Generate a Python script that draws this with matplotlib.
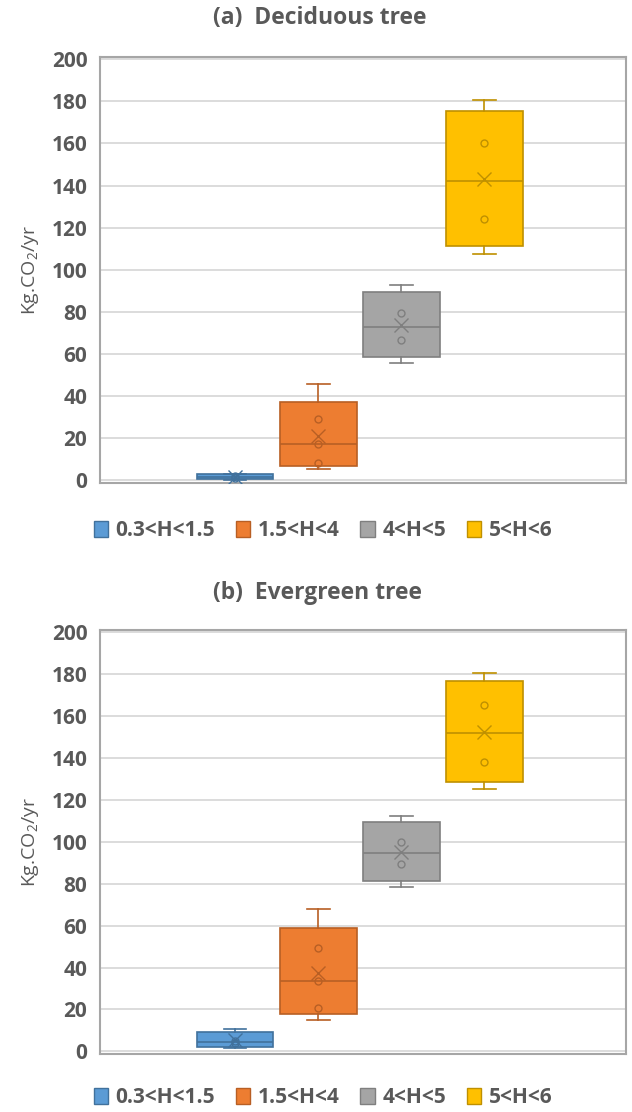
import numpy as np
import matplotlib.pyplot as plt
from matplotlib.patches import Patch

plt.rcParams['font.family'] = ['Open Sans', 'DejaVu Sans']

# carbon uptake samples per height class (kg CO2 / yr)
height_classes = ['0.3<H<1.5', '1.5<H<4', '4<H<5', '5<H<6']

deciduous = [
    [0.4, 1.2, 1.9, 3.2],
    [5.3, 8.5, 17.1, 29.3, 45.6],
    [55.7, 66.5, 79.5, 92.9],
    [107.3, 123.9, 160.0, 180.7],
]
evergreen = [
    [1.6, 4.0, 4.9, 10.5],
    [15.2, 20.6, 33.7, 49.3, 68.1],
    [78.4, 89.3, 100.0, 112.4],
    [125.2, 138.1, 165.4, 180.3],
]

fill_colors = ['#5B9BD5', '#ED7D31', '#A5A5A5', '#FFC000']
edge_colors = ['#41719C', '#B85F24', '#7F7F7F', '#BF9000']
text_color = '#595959'


def box_stats(values):
    v = np.sort(np.asarray(values, dtype=float))
    # exclusive quartiles, like QUARTILE.EXC
    q1, med, q3 = np.percentile(v, [25, 50, 75], method='weibull')
    return dict(med=med, q1=q1, q3=q3, whislo=v.min(), whishi=v.max(),
                mean=v.mean(), fliers=[])


def draw_panel(ax, groups):
    for i, vals in enumerate(groups):
        pos = i + 1
        st = box_stats(vals)
        ec = edge_colors[i]
        ax.bxp([st], positions=[pos], widths=0.92, capwidths=[0.27],
               showmeans=True, patch_artist=True,
               boxprops=dict(facecolor=fill_colors[i], edgecolor=ec, linewidth=1.2),
               medianprops=dict(color=ec, linewidth=1.2),
               whiskerprops=dict(color=ec, linewidth=1.2),
               capprops=dict(color=ec, linewidth=1.2),
               meanprops=dict(marker='x', markeredgecolor=ec, markersize=10,
                              markeredgewidth=1.0),
               zorder=3)
        inner = np.sort(vals)[1:-1]
        ax.plot(np.full(len(inner), pos), inner, 'o', mfc='none', mec=ec,
                ms=5, mew=1.0, zorder=4)

    ax.set_xlim(-0.63, 5.70)
    ax.set_ylim(-1.2, 201)
    ax.set_yticks(np.arange(0, 201, 20))
    ax.set_xticks([])
    ax.grid(axis='y', color='#D9D9D9', linewidth=1.3, zorder=0)
    ax.set_axisbelow(True)
    for sp in ax.spines.values():
        sp.set_color('#A6A6A6')
        sp.set_linewidth(1.5)
    ax.tick_params(axis='y', length=0, pad=9, labelsize=15, labelcolor=text_color)
    for lbl in ax.get_yticklabels():
        lbl.set_fontweight('bold')
    ax.set_ylabel('Kg.CO$_\\mathregular{2}$/yr', fontsize=14, color=text_color)
    ax.yaxis.set_label_coords(-0.112, 0.5)


fig = plt.figure(figsize=(6.32, 11.12), dpi=100)
ax_a = fig.add_axes([0.158, 0.5657, 0.832, 0.383])
ax_b = fig.add_axes([0.158, 0.0522, 0.832, 0.3813])

draw_panel(ax_a, deciduous)
draw_panel(ax_b, evergreen)

fig.text(0.506, 0.984, '(a)  Deciduous tree', ha='center', va='center',
         fontsize=16.5, fontweight='bold', color=text_color)
fig.text(0.503, 0.4667, '(b)  Evergreen tree', ha='center', va='center',
         fontsize=16.5, fontweight='bold', color=text_color)

handles = [Patch(facecolor=fc, edgecolor=ec, linewidth=1.0)
           for fc, ec in zip(fill_colors, edge_colors)]
for y in (0.523, 0.0126):
    leg = fig.legend(handles, height_classes, loc='center',
                     bbox_to_anchor=(0.511, y), ncol=4, frameon=False,
                     handlelength=0.7, handleheight=0.8, handletextpad=0.35,
                     columnspacing=1.0, prop=dict(size=15, weight='bold'))
    for t in leg.get_texts():
        t.set_color(text_color)

fig.savefig('out.png', dpi=100)
